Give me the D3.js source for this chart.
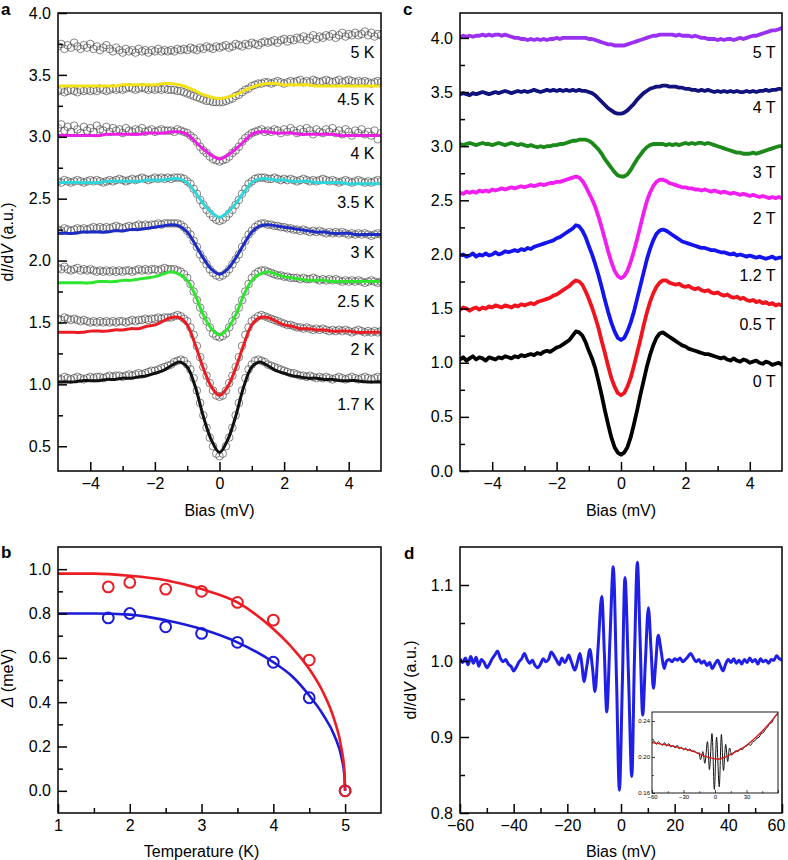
<!DOCTYPE html>
<html><head><meta charset="utf-8">
<script src="https://cdn.jsdelivr.net/npm/d3@7"></script>
<style>
body{margin:0;background:#fff;}
svg text{font-family:"Liberation Sans",Arial,Helvetica,sans-serif;}
</style></head><body>
<svg id="fig" width="788" height="860"></svg>
<script>
// ---------------- DATA ----------------
// Panel a: bias grid (mV) for measured spectra
const biasA = [-5,-4.9,-4.8,-4.7,-4.6,-4.5,-4.4,-4.3,-4.2,-4.1,-4,-3.9,-3.8,-3.7,-3.6,-3.5,-3.4,-3.3,-3.2,-3.1,-3,-2.9,-2.8,-2.7,-2.6,-2.5,-2.4,-2.3,-2.2,-2.1,-2,-1.9,-1.8,-1.7,-1.6,-1.5,-1.4,-1.3,-1.2,-1.1,-1,-0.9,-0.8,-0.7,-0.6,-0.5,-0.4,-0.3,-0.2,-0.1,0,0.1,0.2,0.3,0.4,0.5,0.6,0.7,0.8,0.9,1,1.1,1.2,1.3,1.4,1.5,1.6,1.7,1.8,1.9,2,2.1,2.2,2.3,2.4,2.5,2.6,2.7,2.8,2.9,3,3.1,3.2,3.3,3.4,3.5,3.6,3.7,3.8,3.9,4,4.1,4.2,4.3,4.4,4.5,4.6,4.7,4.8,4.9,5];
const data17K = [1.05,1.04,1.06,1.05,1.04,1.05,1.06,1.05,1.04,1.05,1.06,1.05,1.06,1.06,1.05,1.06,1.07,1.06,1.07,1.07,1.06,1.07,1.08,1.07,1.08,1.09,1.08,1.09,1.10,1.11,1.11,1.12,1.13,1.14,1.15,
1.16,1.18,1.19,1.20,1.19,1.16,1.12,1.05,0.95,0.85,0.75,0.65,0.57,0.50,0.44,0.42,0.44,0.50,0.57,0.65,0.75,0.85,0.95,1.05,1.12,1.16,1.19,1.20,1.19,1.18,1.16,
1.15,1.14,1.13,1.12,1.11,1.10,1.09,1.09,1.08,1.07,1.07,1.06,1.07,1.06,1.05,1.06,1.05,1.06,1.05,1.04,1.05,1.06,1.05,1.04,1.05,1.06,1.05,1.04,1.05,1.06,1.05,1.04,1.05,1.06,1.05];
const data2K = [1.53,1.52,1.54,1.53,1.52,1.53,1.52,1.51,1.52,1.51,1.50,1.51,1.50,1.51,1.50,1.51,1.50,1.51,1.50,1.51,1.51,1.50,1.51,1.52,1.51,1.52,1.52,1.53,1.52,1.53,1.53,1.54,1.53,1.54,1.54,
1.54,1.55,1.56,1.55,1.53,1.51,1.46,1.40,1.31,1.22,1.14,1.07,1.01,0.95,0.91,0.90,0.91,0.95,1.01,1.07,1.14,1.22,1.31,1.40,1.46,1.51,1.53,1.55,1.56,1.55,1.54,
1.53,1.52,1.51,1.50,1.49,1.48,1.48,1.47,1.46,1.46,1.45,1.46,1.45,1.44,1.45,1.44,1.45,1.44,1.43,1.44,1.43,1.44,1.43,1.44,1.43,1.42,1.43,1.44,1.43,1.42,1.43,1.42,1.43,1.42,1.43];
const data25K = [1.94,1.93,1.95,1.93,1.92,1.93,1.94,1.92,1.93,1.92,1.93,1.92,1.91,1.92,1.91,1.92,1.91,1.92,1.91,1.92,1.91,1.92,1.92,1.91,1.92,1.93,1.92,1.93,1.92,1.93,1.93,1.92,1.93,1.94,1.93,
1.93,1.93,1.92,1.91,1.89,1.86,1.81,1.75,1.68,1.62,1.56,1.51,1.46,1.41,1.39,1.38,1.39,1.41,1.46,1.51,1.56,1.62,1.68,1.75,1.81,1.86,1.89,1.91,1.92,1.92,1.91,
1.90,1.89,1.88,1.88,1.87,1.87,1.86,1.86,1.86,1.85,1.86,1.85,1.85,1.86,1.85,1.84,1.85,1.84,1.85,1.84,1.85,1.84,1.83,1.84,1.83,1.84,1.83,1.84,1.83,1.82,1.83,1.84,1.83,1.82,1.83];
const data3K = [2.25,2.24,2.26,2.25,2.24,2.25,2.26,2.25,2.26,2.25,2.26,2.27,2.26,2.27,2.26,2.27,2.26,2.27,2.28,2.27,2.26,2.27,2.28,2.27,2.28,2.29,2.28,2.29,2.28,2.29,2.29,2.30,2.29,2.30,2.30,
2.30,2.30,2.30,2.29,2.27,2.24,2.21,2.16,2.11,2.05,2.01,1.97,1.93,1.90,1.88,1.87,1.88,1.90,1.93,1.97,2.01,2.05,2.11,2.16,2.21,2.24,2.27,2.29,2.30,2.30,2.29,
2.29,2.28,2.28,2.27,2.27,2.26,2.26,2.25,2.25,2.24,2.25,2.24,2.23,2.24,2.23,2.24,2.23,2.22,2.23,2.22,2.23,2.22,2.23,2.22,2.21,2.22,2.21,2.22,2.21,2.22,2.21,2.20,2.21,2.22,2.21];
const data35K = [2.64,2.63,2.65,2.64,2.63,2.64,2.65,2.64,2.63,2.64,2.65,2.64,2.65,2.64,2.63,2.64,2.65,2.64,2.65,2.66,2.65,2.64,2.65,2.66,2.65,2.66,2.67,2.66,2.65,2.66,2.67,2.66,2.67,2.66,2.67,
2.66,2.67,2.67,2.67,2.66,2.64,2.62,2.58,2.54,2.49,2.45,2.41,2.38,2.35,2.33,2.32,2.33,2.35,2.38,2.41,2.45,2.49,2.54,2.58,2.62,2.64,2.66,2.67,2.67,2.67,2.66,
2.66,2.67,2.66,2.65,2.66,2.65,2.66,2.65,2.64,2.65,2.66,2.65,2.64,2.65,2.64,2.65,2.66,2.65,2.64,2.65,2.64,2.63,2.64,2.65,2.64,2.63,2.64,2.65,2.64,2.63,2.64,2.63,2.64,2.65,2.64];
const data4K = [3.07,3.10,3.05,3.08,3.04,3.09,3.06,3.03,3.08,3.05,3.07,3.04,3.09,3.06,3.05,3.08,3.04,3.07,3.05,3.06,3.03,3.07,3.05,3.04,3.06,3.05,3.07,3.04,3.05,3.06,3.04,3.05,3.06,3.05,3.05,
3.05,3.04,3.06,3.05,3.04,3.03,3.01,2.99,2.96,2.92,2.89,2.87,2.84,2.82,2.81,2.80,2.81,2.82,2.84,2.87,2.89,2.92,2.96,2.99,3.01,3.03,3.04,3.05,3.06,3.04,3.05,
3.04,3.06,3.05,3.03,3.06,3.04,3.07,3.05,3.03,3.06,3.04,3.07,3.05,3.02,3.06,3.04,3.03,3.06,3.04,3.07,3.03,3.05,3.02,3.06,3.04,3.01,3.05,3.03,3.06,3.02,3.04,3.01,3.05,2.98,3.03];
const data45K = [3.37,3.38,3.36,3.37,3.38,3.37,3.36,3.38,3.37,3.38,3.37,3.38,3.37,3.39,3.38,3.37,3.38,3.39,3.38,3.39,3.38,3.39,3.40,3.39,3.38,3.39,3.40,3.39,3.38,3.39,3.38,3.39,3.38,3.39,3.38,
3.38,3.38,3.37,3.37,3.36,3.35,3.34,3.33,3.32,3.31,3.30,3.29,3.29,3.28,3.28,3.28,3.28,3.29,3.30,3.31,3.33,3.34,3.36,3.38,3.39,3.41,3.42,3.43,3.43,3.44,3.44,
3.43,3.44,3.45,3.44,3.43,3.44,3.45,3.44,3.45,3.46,3.44,3.45,3.44,3.46,3.45,3.44,3.45,3.46,3.45,3.44,3.45,3.46,3.44,3.45,3.46,3.45,3.44,3.45,3.44,3.45,3.44,3.43,3.44,3.45,3.44];
const data5K = [3.73,3.75,3.71,3.74,3.72,3.76,3.73,3.71,3.74,3.72,3.75,3.71,3.73,3.70,3.72,3.74,3.71,3.69,3.72,3.70,3.68,3.71,3.69,3.70,3.68,3.71,3.69,3.70,3.68,3.70,3.69,3.71,3.69,3.70,3.69,
3.70,3.69,3.71,3.70,3.71,3.70,3.72,3.71,3.70,3.72,3.71,3.73,3.72,3.71,3.73,3.72,3.73,3.74,3.72,3.73,3.75,3.74,3.73,3.75,3.74,3.76,3.75,3.74,3.76,3.77,3.76,
3.77,3.78,3.76,3.78,3.79,3.77,3.79,3.78,3.80,3.79,3.81,3.78,3.80,3.82,3.79,3.81,3.80,3.82,3.81,3.83,3.80,3.82,3.84,3.81,3.83,3.82,3.84,3.82,3.83,3.85,3.82,3.84,3.81,3.83,3.82];
// Panel a fits
const biasFit = [-5,-4.75,-4.5,-4.25,-4,-3.75,-3.5,-3.25,-3,-2.75,-2.5,-2.25,-2,-1.75,-1.5,-1.25,-1,-0.75,-0.5,-0.25,0,0.25,0.5,0.75,1,1.25,1.5,1.75,2,2.25,2.5,2.75,3,3.25,3.5,3.75,4,4.25,4.5,4.75,5];
const fit17K = [1.02,1.02,1.02,1.03,1.03,1.03,1.04,1.04,1.05,1.05,1.06,1.07,1.09,1.11,1.15,1.18,1.14,0.98,0.74,0.55,0.45,0.55,0.74,0.98,1.14,1.18,1.15,1.11,1.09,1.07,1.06,1.05,1.05,1.04,1.04,1.03,1.03,1.03,1.02,1.02,1.02];
const fit2K = [1.42,1.42,1.42,1.42,1.43,1.43,1.43,1.44,1.44,1.45,1.45,1.47,1.48,1.51,1.54,1.54,1.48,1.32,1.13,0.98,0.91,0.98,1.13,1.32,1.48,1.54,1.54,1.51,1.48,1.47,1.45,1.45,1.44,1.44,1.43,1.43,1.43,1.42,1.42,1.42,1.42];
const fit25K = [1.82,1.82,1.82,1.82,1.82,1.83,1.83,1.83,1.84,1.84,1.85,1.86,1.87,1.89,1.91,1.89,1.84,1.72,1.56,1.45,1.40,1.45,1.56,1.72,1.84,1.89,1.91,1.89,1.87,1.86,1.85,1.84,1.84,1.84,1.83,1.83,1.83,1.83,1.83,1.83,1.83];
const fit3K = [2.22,2.22,2.22,2.23,2.23,2.23,2.23,2.24,2.24,2.25,2.25,2.26,2.27,2.28,2.29,2.28,2.23,2.13,2.02,1.93,1.89,1.93,2.02,2.13,2.23,2.28,2.29,2.28,2.27,2.26,2.25,2.24,2.23,2.23,2.22,2.22,2.22,2.21,2.21,2.21,2.21];
const fit35K = [2.63,2.63,2.63,2.63,2.63,2.63,2.64,2.64,2.64,2.64,2.64,2.65,2.65,2.65,2.66,2.66,2.63,2.55,2.46,2.39,2.35,2.39,2.46,2.55,2.63,2.66,2.66,2.65,2.65,2.64,2.64,2.64,2.63,2.63,2.63,2.63,2.62,2.62,2.62,2.62,2.62];
const fit4K = [3.01,3.01,3.01,3.01,3.01,3.01,3.02,3.02,3.02,3.02,3.02,3.03,3.03,3.03,3.04,3.04,3.02,2.96,2.90,2.85,2.82,2.85,2.90,2.96,3.02,3.04,3.04,3.03,3.03,3.03,3.02,3.02,3.02,3.02,3.02,3.01,3.01,3.01,3.01,3.01,3.01];
const fit45K = [3.41,3.41,3.41,3.41,3.41,3.41,3.41,3.41,3.42,3.42,3.42,3.42,3.42,3.43,3.43,3.42,3.40,3.37,3.34,3.32,3.31,3.32,3.34,3.37,3.40,3.42,3.43,3.43,3.42,3.42,3.42,3.42,3.41,3.41,3.41,3.41,3.41,3.41,3.41,3.41,3.41];
const labelsA = ["5 K","4.5 K","4 K","3.5 K","3 K","2.5 K","2 K","1.7 K"];
const labelPosA = [3.68,3.30,2.87,2.47,2.07,1.67,1.28,0.84];

// Panel b
const tempB = [1.7,2,2.5,3,3.5,4,4.5,5];
const gapRed = [0.92,0.94,0.91,0.90,0.85,0.77,0.59,0.0];
const gapBlue = [0.78,0.80,0.74,0.71,0.67,0.58,0.42,0.0];
const fitTemp = [1,1.5,2,2.5,3,3.5,4,4.25,4.5,4.7,4.85,4.95,4.99,5];
const fitGapRed = [0.98,0.98,0.97,0.95,0.91,0.85,0.73,0.65,0.55,0.44,0.32,0.19,0.09,0];
const fitGapBlue = [0.80,0.80,0.795,0.77,0.73,0.67,0.58,0.52,0.43,0.34,0.25,0.15,0.07,0];

// Panel c (same bias grid as a)
const c0T = [1.03,1.05,1.02,1.04,1.06,1.03,1.05,1.04,1.02,1.05,1.04,1.03,1.05,1.04,1.06,1.05,1.04,1.06,1.05,1.07,1.06,1.07,1.08,1.07,1.09,1.08,1.10,1.11,1.10,1.12,1.14,1.15,1.17,1.19,1.21,
1.25,1.29,1.28,1.25,1.19,1.11,1.04,0.95,0.83,0.70,0.56,0.43,0.31,0.22,0.17,0.15,0.17,0.22,0.31,0.43,0.56,0.70,0.83,0.96,1.07,1.16,1.23,1.27,1.28,1.26,1.24,
1.22,1.20,1.18,1.16,1.15,1.13,1.12,1.11,1.10,1.09,1.08,1.08,1.07,1.06,1.05,1.04,1.05,1.03,1.02,1.04,1.02,1.01,1.03,1.02,1.00,1.01,1.02,1.00,0.99,1.01,1.00,0.98,0.99,1.00,0.98];
const c05T = [1.49,1.51,1.50,1.48,1.50,1.51,1.49,1.51,1.50,1.52,1.51,1.53,1.52,1.51,1.53,1.52,1.51,1.53,1.52,1.54,1.53,1.54,1.55,1.54,1.56,1.57,1.58,1.59,1.60,1.62,1.63,1.65,1.67,1.69,1.71,
1.74,1.76,1.75,1.72,1.66,1.59,1.51,1.42,1.32,1.20,1.09,0.97,0.86,0.78,0.72,0.70,0.72,0.78,0.86,0.97,1.09,1.21,1.34,1.46,1.56,1.64,1.70,1.74,1.76,1.76,1.74,
1.73,1.72,1.73,1.71,1.70,1.71,1.69,1.68,1.69,1.67,1.66,1.67,1.65,1.64,1.65,1.63,1.62,1.63,1.61,1.60,1.61,1.59,1.60,1.58,1.57,1.58,1.56,1.57,1.55,1.56,1.54,1.55,1.53,1.54,1.53];
const c12T = [1.99,2.00,1.98,1.99,2.01,1.98,2.00,1.99,2.01,1.99,2.00,2.02,2.00,2.01,2.03,2.02,2.03,2.04,2.03,2.05,2.04,2.06,2.05,2.07,2.08,2.09,2.10,2.11,2.12,2.13,2.15,2.16,2.18,2.20,2.22,
2.24,2.27,2.26,2.22,2.16,2.08,2.00,1.91,1.81,1.70,1.58,1.47,1.37,1.29,1.23,1.21,1.23,1.29,1.37,1.47,1.59,1.71,1.83,1.95,2.05,2.13,2.19,2.22,2.23,2.22,2.20,
2.18,2.16,2.14,2.12,2.11,2.10,2.09,2.08,2.07,2.06,2.06,2.05,2.04,2.04,2.03,2.02,2.02,2.01,2.00,2.01,1.99,2.00,1.99,1.98,1.99,1.98,1.97,1.98,1.97,1.96,1.97,1.98,1.96,1.97,1.97];
const c2T = [2.57,2.56,2.58,2.57,2.58,2.57,2.59,2.58,2.59,2.58,2.60,2.59,2.60,2.61,2.60,2.61,2.62,2.61,2.62,2.63,2.62,2.63,2.64,2.63,2.64,2.65,2.64,2.65,2.66,2.66,2.67,2.67,2.68,2.69,2.70,
2.71,2.72,2.71,2.68,2.63,2.57,2.51,2.44,2.35,2.25,2.14,2.03,1.93,1.85,1.80,1.78,1.80,1.85,1.93,2.03,2.14,2.26,2.38,2.49,2.57,2.63,2.67,2.69,2.69,2.68,2.66,
2.65,2.64,2.63,2.62,2.62,2.61,2.61,2.60,2.60,2.59,2.60,2.59,2.58,2.59,2.58,2.57,2.58,2.57,2.56,2.57,2.56,2.55,2.56,2.55,2.54,2.55,2.54,2.53,2.54,2.53,2.52,2.53,2.52,2.53,2.52];
const c3T = [3.02,3.01,3.02,3.03,3.02,3.01,3.02,3.03,3.02,3.02,3.01,3.02,3.03,3.02,3.01,3.02,3.03,3.02,3.01,3.02,3.01,3.00,3.01,3.00,2.99,3.00,2.99,3.00,3.00,3.01,3.01,3.02,3.02,3.03,3.04,
3.05,3.05,3.06,3.06,3.06,3.05,3.03,3.00,2.97,2.93,2.88,2.84,2.80,2.76,2.73,2.72,2.72,2.74,2.78,2.83,2.88,2.92,2.96,2.99,3.01,3.02,3.02,3.02,3.02,3.01,3.02,
3.01,3.02,3.01,3.02,3.03,3.02,3.03,3.02,3.03,3.03,3.02,3.03,3.02,3.01,3.00,2.99,2.98,2.97,2.96,2.95,2.94,2.94,2.93,2.93,2.93,2.94,2.93,2.94,2.95,2.96,2.97,2.98,2.99,3.00,3.00];
const c4T = [3.48,3.49,3.48,3.47,3.49,3.48,3.49,3.50,3.49,3.48,3.49,3.50,3.49,3.50,3.51,3.50,3.49,3.50,3.51,3.50,3.51,3.50,3.51,3.52,3.51,3.50,3.51,3.52,3.51,3.52,3.51,3.52,3.51,3.52,3.51,
3.52,3.51,3.52,3.51,3.51,3.50,3.49,3.47,3.44,3.41,3.38,3.35,3.33,3.31,3.30,3.30,3.31,3.33,3.36,3.39,3.43,3.46,3.49,3.51,3.53,3.54,3.55,3.55,3.56,3.56,3.55,
3.55,3.55,3.54,3.54,3.53,3.53,3.52,3.52,3.51,3.52,3.51,3.52,3.51,3.50,3.51,3.50,3.51,3.50,3.51,3.50,3.51,3.50,3.50,3.51,3.50,3.51,3.50,3.51,3.51,3.52,3.51,3.52,3.52,3.53,3.53];
const c5T = [4.01,4.02,4.01,4.02,4.01,4.02,4.02,4.03,4.02,4.03,4.02,4.03,4.03,4.02,4.03,4.02,4.01,4.00,4.00,3.99,3.99,3.98,3.99,3.98,3.99,3.98,3.99,3.98,3.99,3.99,4.00,3.99,4.00,4.00,4.00,
4.00,4.00,4.00,4.00,4.00,3.99,3.99,3.98,3.97,3.96,3.95,3.94,3.94,3.93,3.93,3.93,3.93,3.94,3.95,3.96,3.97,3.98,3.99,4.00,4.01,4.02,4.02,4.03,4.03,4.03,4.03,
4.03,4.02,4.03,4.02,4.02,4.02,4.01,4.02,4.01,4.00,4.00,3.99,3.99,3.99,3.98,3.99,3.98,3.99,3.99,3.98,3.99,4.00,3.99,4.00,4.01,4.02,4.02,4.03,4.04,4.05,4.06,4.07,4.07,4.08,4.09];
const labelsC = ["5 T","4 T","3 T","2 T","1.2 T","0.5 T","0 T"];
const labelPosC = [3.87,3.36,2.76,2.33,1.81,1.36,0.83];

// Panel d
const biasD = [-60,-59,-58,-57,-56,-55,-54,-53,-52,-51,-50,-49,-48,-47,-46,-45,-44,-43,-42,-41,-40,-39,-38,-37,-36,-35,-34,-33,-32,-31,-30,-29,-28,-27,-26,-25,-24,-23,-22,-21,
-20,-19.5,-18.4,-17.2,-16.2,-15.3,-14.5,-13.8,-12.7,-11.6,-10.6,-9.7,-8.5,-7.2,-6.2,-5.3,-4.1,-2.9,-1.7,-0.6,0.5,1.5,2.8,4.0,5.0,6.1,7.1,8.1,9.1,10.2,11.2,12.1,13.0,13.9,15.0,16.1,17.0,
18,19,20,21,22,23,24,25,26,27,28,29,30,31,32,33,34,35,36,37,38,39,40,41,42,43,44,45,46,47,48,49,50,51,52,53,54,55,56,57,58,59,60];
const dIdVD = [1.003,0.998,1.004,0.995,1.006,0.997,1.005,0.993,1.002,0.998,0.991,0.996,1.003,1.008,1.013,1.004,0.999,1.002,0.996,0.993,0.987,0.992,0.999,1.003,1.010,1.002,0.997,1.001,0.994,0.991,0.996,1.003,0.999,1.002,1.012,1.007,1.001,0.995,1.004,0.998,
1.004,1.008,0.998,0.988,0.999,1.010,0.993,0.973,0.994,1.015,0.990,0.960,1.020,1.085,1.010,0.933,1.030,1.124,0.980,0.830,0.970,1.110,0.980,0.848,1.000,1.130,1.030,0.929,1.000,1.070,1.015,0.964,1.000,1.034,1.012,0.990,1.000,
1.002,0.999,1.003,1.001,1.004,0.999,1.002,1.006,1.010,1.004,0.999,1.002,0.997,1.000,0.994,0.998,0.990,0.996,1.001,0.994,0.987,0.996,1.002,0.998,1.003,0.997,1.001,0.996,1.002,0.998,1.004,0.999,1.002,0.996,1.003,0.999,1.001,0.997,1.002,1.001,1.007,1.003,1.001];
// Panel d inset
const insetBias = [-60,-58,-56,-54,-52,-50,-48,-46,-44,-42,-40,-38,-36,-34,-32,-30,-28,-26,-24,-22,-20,-18,-16,
-15.3,-13.8,-11.6,-9.7,-7.2,-5.3,-2.9,-0.6,1.5,4.0,6.1,8.1,10.2,12.1,13.9,
16,18,20,22,24,26,28,30,32,34,36,38,40,42,44,46,48,50,52,54,56,58,60];
const insetRaw = [0.216,0.218,0.214,0.217,0.215,0.213,0.216,0.212,0.215,0.211,0.213,0.210,0.213,0.209,0.211,0.208,0.210,0.207,0.209,0.206,0.207,0.205,0.204,
0.205,0.197,0.206,0.193,0.217,0.186,0.226,0.164,0.222,0.167,0.225,0.185,0.214,0.195,0.210,
0.202,0.205,0.207,0.206,0.209,0.208,0.211,0.212,0.214,0.213,0.217,0.218,0.221,0.222,0.226,0.227,0.231,0.233,0.237,0.238,0.243,0.246,0.249];
const insetBgBias = [-60,-50,-40,-30,-20,-10,0,5,10,20,30,40,50,60];
const insetBg = [0.216,0.214,0.212,0.209,0.206,0.201,0.198,0.198,0.200,0.206,0.213,0.223,0.235,0.249];

// ---------------- DRAWING ----------------
const svg = d3.select("#fig");
const FONT = '"Liberation Sans",Arial,Helvetica,sans-serif';
const FS = 16;

function addAxes(g, xS, yS, w, h, xMaj, xMin, yMaj, yMin, xFmt, yFmt, o) {
  o = Object.assign({fs:FS, big:9, small:5, padX:7, padY:7, sw:1.5, frame:1.5}, o||{});
  const ax = [
    g.append("g").attr("transform",`translate(0,${h})`).call(d3.axisBottom(xS).tickValues(xMaj).tickSize(-o.big).tickPadding(o.padX).tickFormat(xFmt)),
    g.append("g").attr("transform",`translate(0,${h})`).call(d3.axisBottom(xS).tickValues(xMin).tickSize(-o.small).tickFormat("")),
    g.append("g").call(d3.axisLeft(yS).tickValues(yMaj).tickSize(-o.big).tickPadding(o.padY).tickFormat(yFmt)),
    g.append("g").call(d3.axisLeft(yS).tickValues(yMin).tickSize(-o.small).tickFormat(""))
  ];
  ax.forEach(a => {
    a.attr("font-size", o.fs).attr("font-family", FONT);
    a.select(".domain").remove();
    a.selectAll(".tick line").attr("stroke","#000").attr("stroke-width",o.sw);
    a.selectAll(".tick text").attr("fill","#000");
  });
  g.append("rect").attr("width",w).attr("height",h).attr("fill","none").attr("stroke","#000").attr("stroke-width",o.frame);
  return ax;
}
function clip(id, w, h) {
  svg.append("defs").append("clipPath").attr("id",id).append("rect").attr("width",w).attr("height",h);
  return `url(#${id})`;
}
function dIdVTitle(x, y) {
  const t = svg.append("text").attr("transform",`translate(${x},${y}) rotate(-90)`)
    .attr("text-anchor","middle").attr("font-size",FS).attr("fill","#000");
  t.append("tspan").text("d");
  t.append("tspan").attr("font-style","italic").text("I");
  t.append("tspan").text("/d");
  t.append("tspan").attr("font-style","italic").text("V");
  t.append("tspan").text(" (a.u.)");
}
function letter(txt, x, y) {
  svg.append("text").attr("x",x).attr("y",y).attr("font-size",17).attr("font-weight","bold").attr("fill","#000").text(txt);
}
const fmt1 = d3.format(".1f");
const fmtD = d3.format("d");

// ===== Panel a =====
{
  const w = 323, h = 458;
  const g = svg.append("g").attr("transform","translate(58,13)");
  const x = d3.scaleLinear().domain([-5,5]).range([0,w]);
  const y = d3.scaleLinear().domain([0.3,4.0]).range([h,0]);
  const plot = g.append("g").attr("clip-path", clip("clipA", w, h));
  const dataSets = [data5K, data45K, data4K, data35K, data3K, data25K, data2K, data17K];
  dataSets.forEach(ds => {
    plot.append("g").selectAll("circle").data(d3.zip(biasA, ds)).join("circle")
      .attr("cx", d => x(d[0])).attr("cy", d => y(d[1])).attr("r", 3.8)
      .attr("fill","none").attr("stroke","#4a4a4a").attr("stroke-width",0.8).attr("stroke-opacity",0.85);
  });
  const fits = [
    [fit45K, "#f3e21a"], [fit4K, "#ec1ee4"], [fit35K, "#2fd6dc"], [fit3K, "#1c2cc4"],
    [fit25K, "#2de62d"], [fit2K, "#ec1c24"], [fit17K, "#111111"]
  ];
  const line = d3.line().x(d => x(d[0])).y(d => y(d[1])).curve(d3.curveCatmullRom.alpha(0.5));
  fits.forEach(([f, col]) => {
    plot.append("path").attr("d", line(d3.zip(biasFit, f))).attr("fill","none")
      .attr("stroke", col).attr("stroke-width", 3).attr("stroke-linejoin","round");
  });
  labelsA.forEach((t, i) => {
    g.append("text").attr("x", x(4.8)).attr("y", y(labelPosA[i])).attr("dy","0.36em")
      .attr("text-anchor","end").attr("font-size",FS).attr("fill","#000").text(t);
  });
  addAxes(g, x, y, w, h, [-4,-2,0,2,4], [-3,-1,1,3],
    [0.5,1,1.5,2,2.5,3,3.5,4], [0.75,1.25,1.75,2.25,2.75,3.25,3.75], fmtD, fmt1);
  g.append("text").attr("x", w/2).attr("y", h+45).attr("text-anchor","middle").attr("font-size",FS).text("Bias (mV)");
  dIdVTitle(13, 242);
  letter("a", 1, 15);
}

// ===== Panel b =====
{
  const w = 323, h = 266;
  const g = svg.append("g").attr("transform","translate(58,547)");
  const x = d3.scaleLinear().domain([1,5.5]).range([0,w]);
  const y = d3.scaleLinear().domain([-0.1,1.1]).range([h,0]);
  const plot = g.append("g").attr("clip-path", clip("clipB", w, h));
  const line = d3.line().x(d => x(d[0])).y(d => y(d[1])).curve(d3.curveMonotoneX);
  plot.append("path").attr("d", line(d3.zip(fitTemp, fitGapBlue))).attr("fill","none").attr("stroke","#1a1ad8").attr("stroke-width",2.6);
  plot.append("path").attr("d", line(d3.zip(fitTemp, fitGapRed))).attr("fill","none").attr("stroke","#ec1c24").attr("stroke-width",2.6);
  plot.append("g").selectAll("circle").data(d3.zip(tempB, gapBlue)).join("circle")
    .attr("cx", d => x(d[0])).attr("cy", d => y(d[1])).attr("r", 5.4)
    .attr("fill","none").attr("stroke","#1a1ad8").attr("stroke-width",2);
  plot.append("g").selectAll("circle").data(d3.zip(tempB, gapRed)).join("circle")
    .attr("cx", d => x(d[0])).attr("cy", d => y(d[1])).attr("r", 5.4)
    .attr("fill","none").attr("stroke","#ec1c24").attr("stroke-width",2);
  addAxes(g, x, y, w, h, [1,2,3,4,5], [1.5,2.5,3.5,4.5],
    [0,0.2,0.4,0.6,0.8,1.0], [0.1,0.3,0.5,0.7,0.9], fmtD, fmt1);
  g.append("text").attr("x", x(3)).attr("y", h+44).attr("text-anchor","middle").attr("font-size",FS).text("Temperature (K)");
  const t = svg.append("text").attr("transform","translate(13,678) rotate(-90)").attr("text-anchor","middle").attr("font-size",FS);
  t.append("tspan").attr("font-style","italic").text("Δ");
  t.append("tspan").text(" (meV)");
  letter("b", 1, 558);
}

// ===== Panel c =====
{
  const w = 322, h = 458;
  const g = svg.append("g").attr("transform","translate(460,13)");
  const x = d3.scaleLinear().domain([-5,5]).range([0,w]);
  const y = d3.scaleLinear().domain([0,4.23]).range([h,0]);
  const plot = g.append("g").attr("clip-path", clip("clipC", w, h));
  const series = [
    [c5T, "#9a30f2"], [c4T, "#12127e"], [c3T, "#1b8a1b"], [c2T, "#f01ef0"],
    [c12T, "#1414ee"], [c05T, "#f0141e"], [c0T, "#000000"]
  ];
  const line = d3.line().x(d => x(d[0])).y(d => y(d[1]));
  series.forEach(([s, col]) => {
    plot.append("path").attr("d", line(d3.zip(biasA, s))).attr("fill","none")
      .attr("stroke", col).attr("stroke-width", 3.8).attr("stroke-linejoin","round").attr("stroke-linecap","round");
  });
  labelsC.forEach((t, i) => {
    g.append("text").attr("x", x(4.8)).attr("y", y(labelPosC[i])).attr("dy","0.36em")
      .attr("text-anchor","end").attr("font-size",FS).attr("fill","#000").text(t);
  });
  addAxes(g, x, y, w, h, [-4,-2,0,2,4], [-3,-1,1,3],
    [0,0.5,1,1.5,2,2.5,3,3.5,4], [0.25,0.75,1.25,1.75,2.25,2.75,3.25,3.75], fmtD, fmt1);
  g.append("text").attr("x", w/2).attr("y", h+45).attr("text-anchor","middle").attr("font-size",FS).text("Bias (mV)");
  letter("c", 403, 15);
}

// ===== Panel d =====
{
  const w = 322, h = 266;
  const g = svg.append("g").attr("transform","translate(460,547)");
  const x = d3.scaleLinear().domain([-60,60]).range([0,w]);
  const y = d3.scaleLinear().domain([0.8,1.15]).range([h,0]);
  const plot = g.append("g").attr("clip-path", clip("clipD", w, h));
  const line = d3.line().x(d => x(d[0])).y(d => y(d[1])).curve(d3.curveCatmullRom.alpha(0.5));
  plot.append("path").attr("d", line(d3.zip(biasD, dIdVD))).attr("fill","none")
    .attr("stroke","#1f1fe6").attr("stroke-width",3).attr("stroke-linejoin","round");
  const ax = addAxes(g, x, y, w, h, [-60,-40,-20,0,20,40,60], [-50,-30,-10,10,30,50],
    [0.8,0.9,1.0,1.1], [0.85,0.95,1.05], fmtD, fmt1);
  ax[0].selectAll(".tick text").filter(d => d === 60).attr("dx", -6);
  g.append("text").attr("x", w/2).attr("y", h+44).attr("text-anchor","middle").attr("font-size",FS).text("Bias (mV)");
  dIdVTitle(416, 680);
  letter("d", 404, 559);

  // inset
  const iw = 126, ih = 81;
  const gi = svg.append("g").attr("transform","translate(652,712)");
  gi.append("rect").attr("width",iw).attr("height",ih).attr("fill","#fff");
  const xi = d3.scaleLinear().domain([-60,60]).range([0,iw]);
  const yi = d3.scaleLinear().domain([0.16,0.25]).range([ih,0]);
  const pi = gi.append("g").attr("clip-path", clip("clipI", iw, ih));
  const li = d3.line().x(d => xi(d[0])).y(d => yi(d[1])).curve(d3.curveCatmullRom.alpha(0.5));
  pi.append("path").attr("d", li(d3.zip(insetBias, insetRaw))).attr("fill","none").attr("stroke","#111").attr("stroke-width",1);
  pi.append("path").attr("d", li(d3.zip(insetBgBias, insetBg))).attr("fill","none").attr("stroke","#d41a1a").attr("stroke-width",1.3);
  addAxes(gi, xi, yi, iw, ih, [-60,-30,0,30,60], [-45,-15,15,45], [0.16,0.20,0.24], [0.18,0.22],
    d => d === 60 ? "" : fmtD(d), d3.format(".2f"), {fs:6, big:3, small:1.8, padX:2, padY:2, sw:0.7, frame:0.9});
}
</script>
</body></html>
